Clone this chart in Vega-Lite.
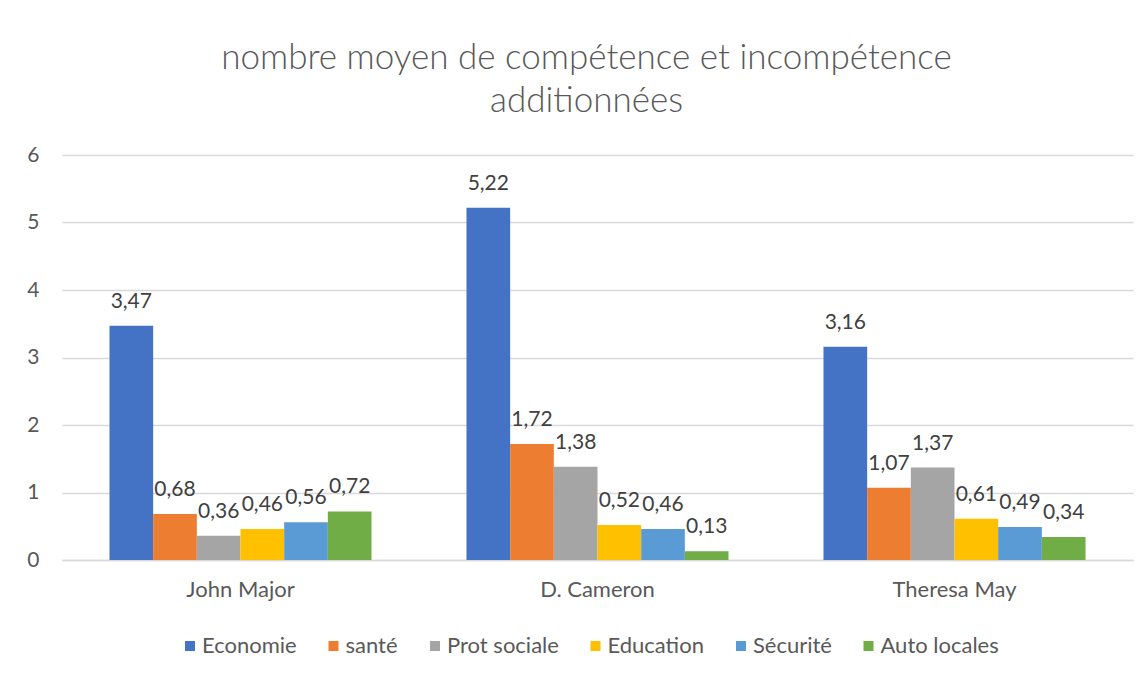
{
  "$schema": "https://vega.github.io/schema/vega-lite/v6.json",
  "width": 1071,
  "height": 405,
  "autosize": {"type": "none"},
  "padding": {"left": 62, "top": 155, "right": 14, "bottom": 115},
  "background": "white",
  "title": {
    "text": ["nombre moyen de compétence et incompétence", "additionnées"],
    "font": "Lato",
    "fontSize": 35,
    "fontWeight": 300,
    "color": "#595959",
    "lineHeight": 43,
    "offset": 25,
    "dx": -11
  },
  "data": {
    "values": [
      {"pm": "John Major", "domaine": "Economie", "val": 3.47},
      {"pm": "John Major", "domaine": "santé", "val": 0.68},
      {"pm": "John Major", "domaine": "Prot sociale", "val": 0.36},
      {"pm": "John Major", "domaine": "Education", "val": 0.46},
      {"pm": "John Major", "domaine": "Sécurité", "val": 0.56},
      {"pm": "John Major", "domaine": "Auto locales", "val": 0.72},
      {"pm": "D. Cameron", "domaine": "Economie", "val": 5.22},
      {"pm": "D. Cameron", "domaine": "santé", "val": 1.72},
      {"pm": "D. Cameron", "domaine": "Prot sociale", "val": 1.38},
      {"pm": "D. Cameron", "domaine": "Education", "val": 0.52},
      {"pm": "D. Cameron", "domaine": "Sécurité", "val": 0.46},
      {"pm": "D. Cameron", "domaine": "Auto locales", "val": 0.13},
      {"pm": "Theresa May", "domaine": "Economie", "val": 3.16},
      {"pm": "Theresa May", "domaine": "santé", "val": 1.07},
      {"pm": "Theresa May", "domaine": "Prot sociale", "val": 1.37},
      {"pm": "Theresa May", "domaine": "Education", "val": 0.61},
      {"pm": "Theresa May", "domaine": "Sécurité", "val": 0.49},
      {"pm": "Theresa May", "domaine": "Auto locales", "val": 0.34}
    ]
  },
  "encoding": {
    "x": {
      "field": "pm",
      "type": "nominal",
      "sort": ["John Major", "D. Cameron", "Theresa May"],
      "scale": {"paddingInner": 0.266, "paddingOuter": 0.133},
      "axis": {
        "title": null,
        "labelAngle": 0,
        "labelFont": "Lato",
        "labelFontSize": 22,
        "labelColor": "#595959",
        "labelPadding": 19,
        "ticks": false,
        "domain": true,
        "domainColor": "#D9D9D9",
        "domainWidth": 1.3
      }
    },
    "xOffset": {
      "field": "domaine",
      "type": "nominal",
      "sort": ["Economie", "santé", "Prot sociale", "Education", "Sécurité", "Auto locales"],
      "scale": {"paddingInner": 0, "paddingOuter": 0}
    },
    "y": {
      "field": "val",
      "type": "quantitative",
      "scale": {"domain": [0, 6], "nice": false},
      "axis": {
        "title": null,
        "values": [0, 1, 2, 3, 4, 5, 6],
        "labelFont": "Lato",
        "labelFontSize": 21,
        "labelColor": "#595959",
        "labelPadding": 23,
        "ticks": false,
        "domain": false,
        "grid": true,
        "gridColor": "#D9D9D9",
        "gridWidth": 1.3
      }
    }
  },
  "layer": [
    {
      "mark": {"type": "bar"},
      "encoding": {
        "color": {
          "field": "domaine",
          "type": "nominal",
          "scale": {
            "domain": ["Economie", "santé", "Prot sociale", "Education", "Sécurité", "Auto locales"],
            "range": ["#4472C4", "#ED7D31", "#A5A5A5", "#FFC000", "#5B9BD5", "#70AD47"]
          },
          "legend": {
            "title": null,
            "orient": "none",
            "direction": "horizontal",
            "legendX": 117,
            "legendY": 480,
            "symbolType": "square",
            "symbolSize": 100,
            "symbolStrokeWidth": 0,
            "labelFont": "Lato",
            "labelFontSize": 22,
            "labelColor": "#595959",
            "labelOffset": 1,
            "columnPadding": 25.5
          }
        }
      }
    },
    {
      "mark": {
        "type": "text",
        "baseline": "alphabetic",
        "dy": -18,
        "font": "Lato",
        "fontSize": 21,
        "color": "#404040"
      },
      "encoding": {
        "text": {"field": "val", "type": "quantitative", "format": ".2f"}
      }
    }
  ],
  "config": {
    "locale": {
      "number": {"decimal": ",", "thousands": " ", "grouping": [3], "currency": ["", " €"]}
    },
    "view": {"stroke": null}
  }
}
